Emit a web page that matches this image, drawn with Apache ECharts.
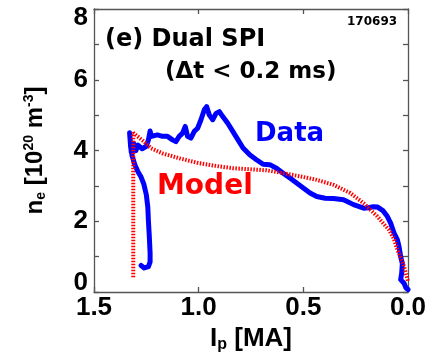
<!DOCTYPE html>
<html>
<head>
<meta charset="utf-8">
<script src="https://cdn.jsdelivr.net/npm/echarts@6/dist/echarts.min.js"></script>
<style>html,body{margin:0;padding:0;background:#fff;}#c{width:431px;height:358px;}</style>
</head>
<body>
<div id="c"></div>
<script>
// Measured data (Ip in MA, ne in 1e20 m^-3)
var dataIp = [1.275,1.26,1.24,1.232,1.232,1.236,1.240,1.243,1.250,1.262,1.275,1.29,1.305,1.318,1.325,1.33,1.322,1.31,1.30,1.29,1.27,1.25,1.24,1.232,1.225,1.218,1.197,1.173,1.149,1.125,1.109,1.093,1.077,1.064,1.053,1.037,1.021,1.005,0.989,0.973,0.962,0.949,0.933,0.917,0.901,0.885,0.861,0.837,0.812,0.788,0.756,0.724,0.692,0.660,0.628,0.596,0.564,0.532,0.500,0.468,0.436,0.396,0.356,0.308,0.260,0.212,0.190,0.165,0.145,0.120,0.099,0.083,0.067,0.051,0.043,0.035,0.027,0.030,0.035,0.019,0.010,0.0];
var dataNe = [0.75,0.68,0.72,0.85,1.1,1.6,2.0,2.4,2.75,3.05,3.25,3.4,3.6,3.85,4.1,4.5,3.95,4.2,4.0,4.15,4.05,4.12,4.3,4.55,4.4,4.4,4.44,4.4,4.4,4.3,4.25,4.4,4.49,4.68,4.4,4.35,4.54,4.63,4.87,5.15,5.24,5.0,4.87,5.05,5.1,4.96,4.77,4.54,4.3,4.07,3.88,3.74,3.61,3.6,3.5,3.36,3.22,3.08,2.94,2.8,2.7,2.65,2.64,2.61,2.47,2.37,2.38,2.41,2.40,2.30,2.14,1.95,1.67,1.48,1.29,1.0,0.8,0.54,0.35,0.25,0.12,0.07];
var modelIp = [1.3125,1.3125,1.309,1.261,1.229,1.173,1.093,0.997,0.901,0.837,0.676,0.596,0.516,0.436,0.356,0.276,0.212,0.147,0.091,0.067,0.051,0.030,0.019,0.0];
var modelNe = [0.42,4.5,4.49,4.25,4.07,3.92,3.78,3.64,3.55,3.5,3.44,3.36,3.27,3.17,3.03,2.8,2.51,2.14,1.76,1.5,1.2,0.9,0.72,0.3];
var xTicks = [0, 0.5, 1.0, 1.5];
var yTicks = [0, 2, 4, 6, 8];

function zip(a, b) { return a.map(function (v, i) { return [v, b[i]]; }); }

var chart = echarts.init(document.getElementById('c'), null, {renderer: 'canvas'});
var axisLine = {show: true, onZero: false, lineStyle: {color: '#555', width: 1.3}};
var tickStyle = {show: true, inside: true, length: 5, lineStyle: {color: '#555', width: 1.3}};
var lf = {fontFamily: '"Liberation Sans", Arial, sans-serif', fontWeight: 'bold', fontSize: 26, color: '#000'};

chart.setOption({
  animation: false,
  backgroundColor: '#fff',
  grid: {left: 94, top: 9, right: 23, bottom: 66, show: false},
  xAxis: [{
    type: 'value', min: 0, max: 1.5, interval: 0.5, inverse: true, position: 'bottom',
    axisLine: axisLine, axisTick: tickStyle, splitLine: {show: false},
    axisLabel: Object.assign({margin: 3, formatter: function (v) { return xTicks.indexOf(v) >= 0 ? v.toFixed(1) : ''; }}, lf),
    name: '{b|I}{s|p}{b| [MA]}', nameLocation: 'middle', nameGap: 31,
    nameTextStyle: {rich: {
      b: {fontFamily: '"Liberation Sans", Arial, sans-serif', fontWeight: 'bold', fontSize: 26, color: '#000'},
      s: {fontFamily: '"Liberation Sans", Arial, sans-serif', fontWeight: 'bold', fontSize: 16, color: '#000', padding: [12, 0, 0, 0]}
    }}
  }, {
    type: 'value', min: 0, max: 1.5, interval: 0.5, inverse: true, position: 'top',
    axisLine: axisLine, axisTick: tickStyle, splitLine: {show: false}, axisLabel: {show: false}
  }],
  yAxis: [{
    type: 'value', min: 0, max: 8, interval: 1, position: 'left',
    axisLine: axisLine, axisTick: tickStyle, splitLine: {show: false},
    axisLabel: {margin: 6, formatter: function (v) {
      if (yTicks.indexOf(v) < 0) return '';
      if (v === 8) return '{t|8}';
      if (v === 0) return '{d|0}';
      return '{m|' + v + '}';
    }, rich: {
      m: lf,
      t: Object.assign({padding: [18, 0, 0, 0]}, lf),
      d: Object.assign({padding: [0, 0, 18, 0]}, lf)
    }},
    name: '{b|n}{s|e}{b| [10}{u|20}{b| m}{u|-3}{b|]}', nameLocation: 'middle', nameGap: 46, nameRotate: 90,
    nameTextStyle: {rich: {
      b: {fontFamily: '"Liberation Sans", Arial, sans-serif', fontWeight: 'bold', fontSize: 24, color: '#000'},
      s: {fontFamily: '"Liberation Sans", Arial, sans-serif', fontWeight: 'bold', fontSize: 14, color: '#000', padding: [12, 0, 0, 0]},
      u: {fontFamily: '"Liberation Sans", Arial, sans-serif', fontWeight: 'bold', fontSize: 14, color: '#000', padding: [0, 0, 12, 0]}
    }}
  }, {
    type: 'value', min: 0, max: 8, interval: 1, position: 'right',
    axisLine: axisLine, axisTick: tickStyle, splitLine: {show: false}, axisLabel: {show: false}
  }],
  series: [{
    name: 'Model', type: 'line', showSymbol: false, symbol: 'none', z: 3,
    data: zip(modelIp, modelNe),
    lineStyle: {color: '#ff0000', width: 4, type: [1.5, 1.5]}
  }, {
    name: 'Data', type: 'line', showSymbol: false, symbol: 'none', z: 2,
    data: zip(dataIp, dataNe),
    lineStyle: {color: '#0000ff', width: 5, join: 'round', cap: 'round'}
  }],
  graphic: [
    {type: 'text', left: 105, top: 28, style: {text: '(e) Dual SPI', font: 'bold 24px "DejaVu Sans"', fill: '#000'}},
    {type: 'text', left: 165, top: 61, style: {text: '(\u0394t < 0.2 ms)', font: 'bold 23px "DejaVu Sans"', fill: '#000'}},
    {type: 'text', left: 347, top: 16, style: {text: '170693', font: 'bold 12px "DejaVu Sans"', fill: '#000'}},
    {type: 'text', left: 255, top: 121, style: {text: 'Data', font: 'bold 26px "DejaVu Sans"', fill: '#0000ff'}},
    {type: 'text', left: 157, top: 173, style: {text: 'Model', font: 'bold 28px "DejaVu Sans"', fill: '#ff0000'}}
  ]
});
</script>
</body>
</html>
